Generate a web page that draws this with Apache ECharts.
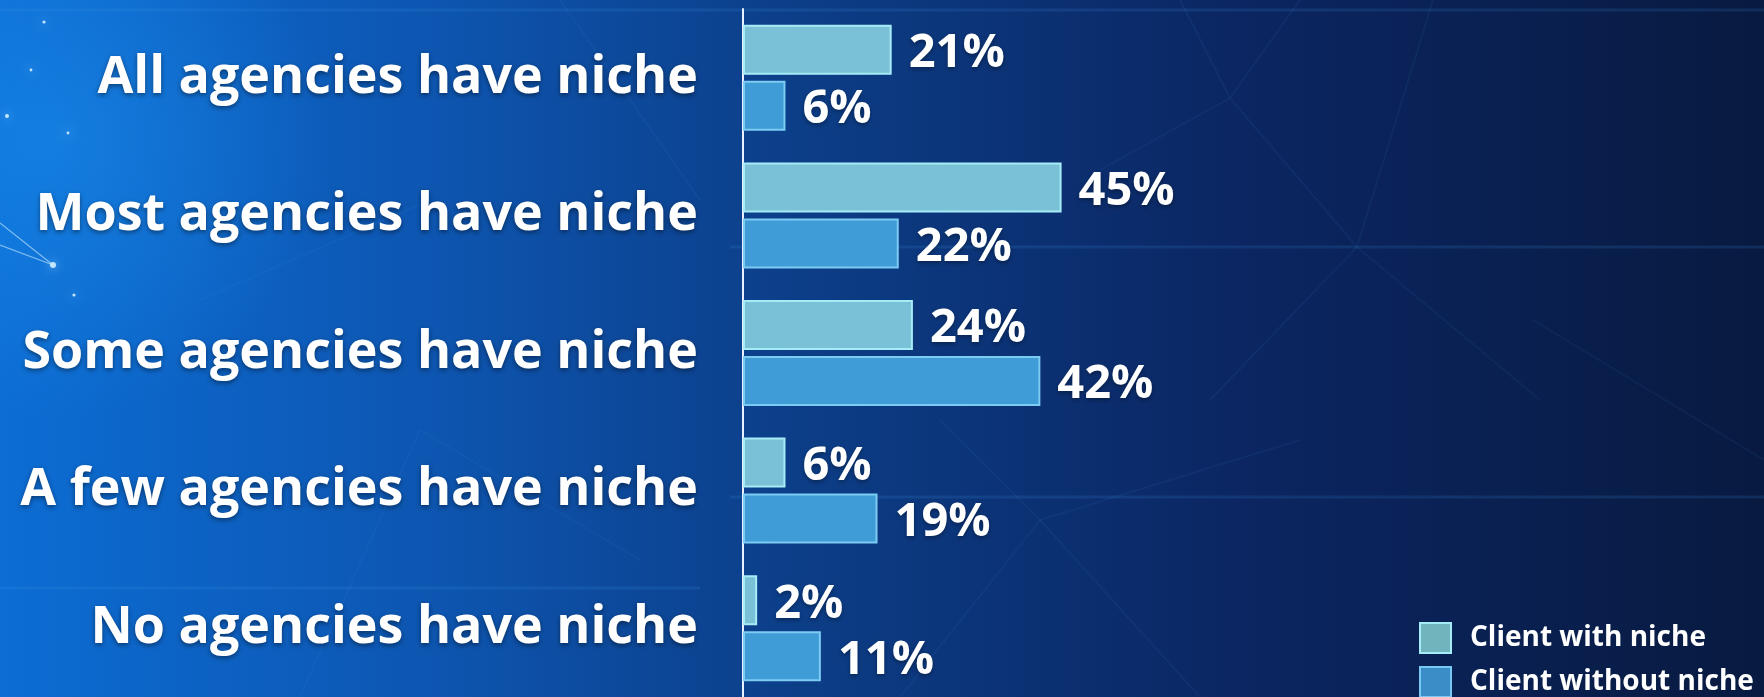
<!DOCTYPE html>
<html>
<head>
<meta charset="utf-8">
<script src="https://cdn.jsdelivr.net/npm/echarts@6/dist/echarts.min.js"></script>
<style>
  html, body { margin: 0; padding: 0; background: #0a2a66; }
  #chart { width: 1764px; height: 697px; }
</style>
</head>
<body>
<div id="chart"></div>
<script>
// Survey answers: how many agencies have a niche, split by client type
const categories = [
  'All agencies have niche',
  'Most agencies have niche',
  'Some agencies have niche',
  'A few agencies have niche',
  'No agencies have niche'
];
const seriesNames = ['Client with niche', 'Client without niche'];
const withNiche = [21, 45, 24, 6, 2];
const withoutNiche = [6, 22, 42, 19, 11];

const FONT = '"Open Sans"';
const W = 1764, H = 697;

// faint "network" strokes and glowing nodes for the backdrop
const netLines = [
  [0, 223, 53, 265], [0, 245, 53, 265],
  [1180, 0, 1230, 98], [1230, 98, 1357, 247], [1230, 98, 1300, 0],
  [1230, 98, 1100, 170], [1357, 247, 1210, 400], [1357, 247, 1540, 400],
  [1357, 247, 1433, 0], [1533, 320, 1764, 460],
  [1040, 520, 940, 420], [1040, 520, 1200, 697], [1040, 520, 1300, 440],
  [1040, 520, 900, 697], [300, 697, 420, 430], [420, 430, 640, 560],
  [560, 0, 700, 200], [200, 300, 430, 200]
];
const netDots = [[53, 265, 3], [44, 22, 1.6], [31, 70, 1.4], [7, 116, 2], [68, 133, 1.4], [74, 295, 1.6]];
const hLines = [[0, 10, W], [730, 247, W], [730, 497, W], [0, 588, 700]];

const graphics = [
  {
    type: 'rect', z: -20, silent: true,
    shape: { x: 0, y: 0, width: W, height: H },
    style: {
      fill: new echarts.graphic.LinearGradient(0, 0, 1, 0, [
        { offset: 0, color: '#0c6dd4' },
        { offset: 0.25, color: '#0d55b0' },
        { offset: 0.45, color: '#0c3e88' },
        { offset: 0.7, color: '#0b2662' },
        { offset: 1, color: '#081a40' }
      ])
    }
  },
  {
    type: 'rect', z: -19, silent: true,
    shape: { x: 0, y: 0, width: W, height: H },
    style: {
      fill: new echarts.graphic.RadialGradient(0.03, 0.2, 0.4, [
        { offset: 0, color: 'rgba(30,150,245,0.45)' },
        { offset: 1, color: 'rgba(30,150,245,0)' }
      ])
    }
  }
];
hLines.forEach(function (l) {
  graphics.push({
    type: 'line', z: -18, silent: true,
    shape: { x1: l[0], y1: l[1], x2: l[2], y2: l[1] },
    style: { stroke: 'rgba(60,150,230,0.16)', lineWidth: 3 }
  });
});
netLines.forEach(function (l, i) {
  graphics.push({
    type: 'line', z: -18, silent: true,
    shape: { x1: l[0], y1: l[1], x2: l[2], y2: l[3] },
    style: { stroke: i < 2 ? 'rgba(200,235,255,0.6)' : 'rgba(70,150,230,0.07)', lineWidth: i < 2 ? 1.2 : 2 }
  });
});
netDots.forEach(function (d) {
  graphics.push({
    type: 'circle', z: -17, silent: true,
    shape: { cx: d[0], cy: d[1], r: d[2] },
    style: { fill: 'rgba(210,240,255,0.9)', shadowBlur: 8, shadowColor: 'rgba(160,220,255,0.9)' }
  });
});

const chart = echarts.init(document.getElementById('chart'), null, { renderer: 'canvas' });

const valueLabel = {
  show: true,
  position: 'right',
  distance: 17,
  offset: [0, 4],
  formatter: '{c}%',
  color: '#ffffff',
  fontFamily: FONT,
  fontWeight: 'bold',
  fontSize: 47,
  textShadowColor: 'rgba(0,0,0,0.35)',
  textShadowBlur: 4,
  textShadowOffsetY: 2
};

chart.setOption({
  animation: false,
  graphic: graphics,
  grid: { left: 743, top: 9, width: 708, height: 691, containLabel: false },
  xAxis: {
    type: 'value', min: 0, max: 100,
    show: false
  },
  yAxis: {
    type: 'category',
    data: categories,
    inverse: true,
    axisLine: { show: true, lineStyle: { color: '#e8f0ff', width: 2 } },
    axisTick: { show: false },
    splitLine: { show: false },
    axisLabel: {
      margin: 45,
      padding: [13, 0, 0, 0],
      color: '#ffffff',
      fontFamily: FONT,
      fontWeight: 'bold',
      fontSize: 52,
      textShadowColor: 'rgba(0,0,0,0.45)',
      textShadowBlur: 5,
      textShadowOffsetY: 2
    }
  },
  legend: {
    orient: 'vertical',
    left: 1419,
    top: 622,
    height: 100,
    padding: 0,
    itemWidth: 31,
    itemHeight: 30,
    itemGap: 12,
    selectedMode: false,
    textStyle: {
      color: '#ffffff',
      fontFamily: FONT,
      fontWeight: 'bold',
      fontSize: 28,
      lineHeight: 30,
      padding: [0, 0, 0, 14]
    },
    data: [
      { name: seriesNames[0], icon: 'rect', itemStyle: { color: '#72b4be', borderColor: '#a6ecf7', borderWidth: 2 } },
      { name: seriesNames[1], icon: 'rect', itemStyle: { color: '#3a8dc7', borderColor: '#78c8f2', borderWidth: 2 } }
    ]
  },
  series: [
    {
      name: seriesNames[0],
      type: 'bar',
      data: withNiche,
      barWidth: 50,
      barGap: '12%',
      itemStyle: { color: '#7ac0d6', borderColor: '#a6ecf7', borderWidth: 2 },
      label: valueLabel
    },
    {
      name: seriesNames[1],
      type: 'bar',
      data: withoutNiche,
      barWidth: 50,
      barGap: '12%',
      itemStyle: { color: '#3f9cd6', borderColor: '#7ccbf3', borderWidth: 2 },
      label: valueLabel
    }
  ]
});
</script>
</body>
</html>
